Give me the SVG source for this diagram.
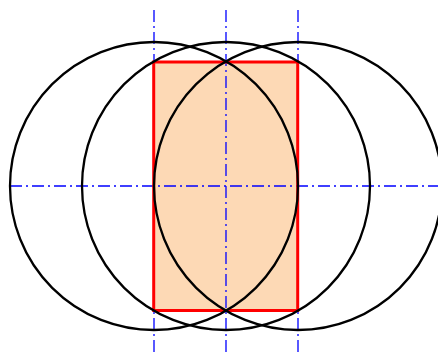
<svg xmlns="http://www.w3.org/2000/svg" width="438" height="356" viewBox="0 0 438 356">
<style>
.axis{stroke:#0000ff;stroke-width:1.3;stroke-dasharray:12 4 2 4;fill:none}
.circ{stroke:#000;stroke-width:2.3;fill:none}
.rfill{fill:#fdd9b5;stroke:none}
.rstroke{stroke:#ff0000;stroke-width:3;fill:none}
</style>
<rect width="438" height="356" fill="#fff"/>
<g id="rectangle-fill"><rect class="rfill" x="153.7" y="62" width="144" height="248.5"/></g>
<g id="axes">
<line class="axis" x1="154" y1="10" x2="154" y2="356"/>
<line class="axis" x1="226" y1="10" x2="226" y2="356"/>
<line class="axis" x1="298" y1="10" x2="298" y2="356"/>
<line class="axis" x1="10" y1="186" x2="438" y2="186"/>
</g>
<g id="rectangle"><rect class="rstroke" x="153.7" y="62" width="144" height="248.5"/></g>
<g id="circles">
<circle id="c1" class="circ" cx="154" cy="186" r="144"/>
<circle id="c2" class="circ" cx="226" cy="186" r="144"/>
<circle id="c3" class="circ" cx="298" cy="186" r="144"/>
</g>
</svg>
